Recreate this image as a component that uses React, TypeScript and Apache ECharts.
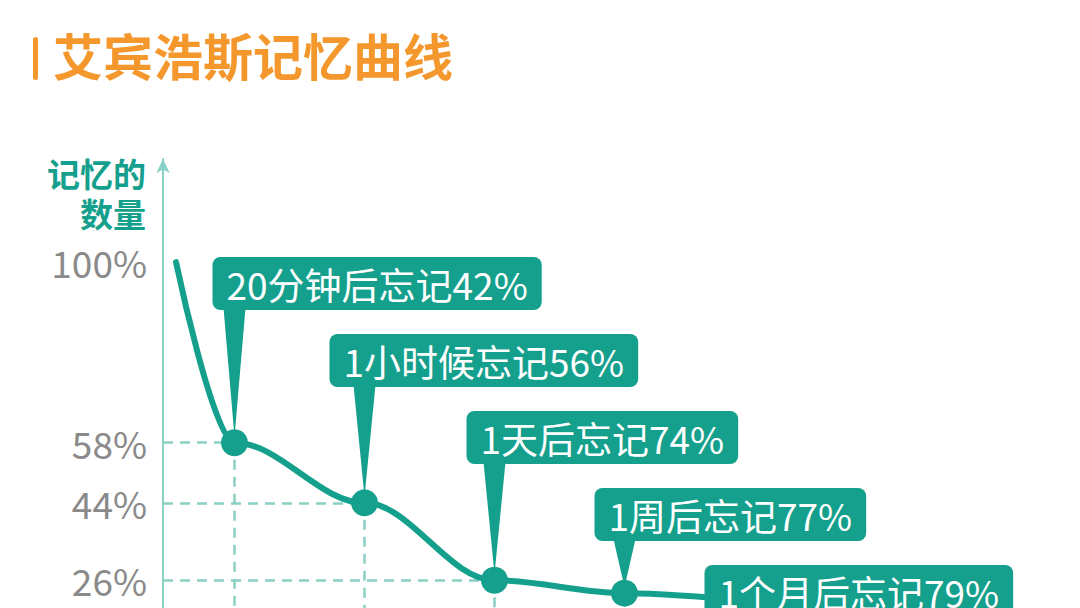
import { useEffect, useRef } from 'react';
import * as echarts from 'echarts';

// 时间点（横轴刻度，位于画面下方之外）
const timeLabels = ['20分钟', '1小时', '1天', '1周', '1个月'];
// 各时间点记忆保留的百分比
const retention = [58, 44, 26, 23, 21];
// 刚学完时的记忆量
const startRetention = 100;
// 起点位于第一个刻度之前（时间为 0）
const startX = -0.45;
// 纵轴标签
const yTickValues = [26, 44, 58, 100];
// 气泡文字
const calloutTexts = ['20分钟后忘记42%', '1小时候忘记56%', '1天后忘记74%', '1周后忘记77%', '1个月后忘记79%'];

const TEAL = '#14a08c';
const GUIDE = '#8bd0c4';
const ORANGE = '#f4982d';
const FONT = '"Noto Sans CJK SC", "Noto Sans", sans-serif';

const X_MIN = -0.55;
// 气泡相对数据点的水平偏移（版式）
const calloutNudge = [-22, -35, -28, -30, -50];

const App = () => {
  const chartDom = useRef<HTMLDivElement>(null);

  useEffect(() => {
    const chart = echarts.init(chartDom.current, null, { renderer: 'svg' });

    const lineData: any[] = [
      { value: [startX, startRetention], symbol: 'none' },
      ...retention.map((v, i) => ({ value: [i, v], name: timeLabels[i] })),
    ];

    // 虚线辅助线：只画纵轴上有标签的点
    const guides: any[] = [];
    retention.forEach((v, i) => {
      if (!yTickValues.includes(v)) return;
      guides.push([{ coord: [X_MIN, v] }, { coord: [i, v] }]);
      guides.push([{ coord: [i, v] }, { coord: [i, 0] }]);
    });

    const option = {
      animation: false,
      title: {
        text: '艾宾浩斯记忆曲线',
        left: 48,
        top: 24,
        textStyle: { fontSize: 50, fontWeight: 'bold', color: ORANGE, fontFamily: FONT },
      },
      graphic: [
        {
          type: 'rect',
          left: 33,
          top: 37,
          shape: { width: 5, height: 43, r: 2.5 },
          style: { fill: ORANGE },
        },
      ],
      grid: { left: 163, right: 130.5, top: 159, bottom: 68 },
      xAxis: {
        type: 'value',
        min: X_MIN,
        max: 5.5,
        axisLine: { onZero: false, lineStyle: { color: GUIDE, width: 2 } },
        axisTick: { show: false },
        splitLine: { show: false },
        axisLabel: { show: false },
      },
      yAxis: {
        type: 'value',
        min: 0,
        max: 124,
        name: '记忆的\n数量',
        nameLocation: 'end',
        nameGap: 6,
        nameTextStyle: {
          color: TEAL,
          fontSize: 33,
          fontWeight: 'bold',
          lineHeight: 40,
          align: 'right',
          verticalAlign: 'top',
          padding: [0, 17, 0, 0],
          fontFamily: FONT,
        },
        axisLine: {
          show: true,
          onZero: false,
          lineStyle: { color: GUIDE, width: 2 },
          symbol: ['none', 'arrow'],
          symbolSize: [10, 14],
        },
        axisTick: { show: false },
        splitLine: { show: false },
        axisLabel: {
          customValues: yTickValues,
          formatter: '{value}%',
          color: '#8a8a8a',
          fontSize: 37,
          margin: 16,
          fontFamily: FONT,
        },
      },
      tooltip: { show: false },
      series: [
        {
          type: 'line',
          data: lineData,
          smooth: 0.35,
          smoothMonotone: 'x',
          symbol: 'circle',
          symbolSize: 27,
          itemStyle: { color: TEAL },
          lineStyle: { color: TEAL, width: 6, cap: 'round' },
          emphasis: { disabled: true },
          silent: true,
          z: 3,
          markLine: {
            silent: true,
            symbol: 'none',
            label: { show: false },
            lineStyle: { type: [10, 7], color: GUIDE, width: 2.5 },
            emphasis: { disabled: true },
            data: guides,
            z: 1,
          },
        },
        {
          type: 'custom',
          coordinateSystem: 'cartesian2d',
          data: retention.map((v, i) => [i, v]),
          encode: { x: 0, y: 1 },
          clip: false,
          silent: true,
          z: 5,
          renderItem: (params: any, api: any) => {
            const idx = params.dataIndex;
            const pt = api.coord([api.value(0), api.value(1)]);
            const top = 257 + idx * 77;
            const boxH = 53;
            return {
              type: 'group',
              children: [
                {
                  type: 'polygon',
                  shape: {
                    points: [
                      [pt[0] - 11, top + boxH - 2],
                      [pt[0] + 11, top + boxH - 2],
                      [pt[0], pt[1] - 6],
                    ],
                  },
                  style: { fill: TEAL },
                },
                {
                  type: 'text',
                  x: pt[0] + calloutNudge[idx],
                  y: top,
                  style: {
                    text: calloutTexts[idx],
                    fontSize: 37,
                    lineHeight: 37,
                    fontFamily: FONT,
                    fill: '#fff',
                    backgroundColor: TEAL,
                    padding: [8, 14, 8, 14],
                    borderRadius: 8,
                    align: 'left',
                    verticalAlign: 'top',
                  },
                },
              ],
            };
          },
        },
      ],
    };

    chart.setOption(option);
    return () => {
      chart.dispose();
    };
  }, []);

  return (
    <div
      style={{
        position: 'fixed',
        left: 0,
        top: 0,
        width: 1080,
        height: 608,
        overflow: 'hidden',
        background: '#fff',
      }}
    >
      <div ref={chartDom} style={{ width: 1080, height: 760 }} />
    </div>
  );
};

export default App;
